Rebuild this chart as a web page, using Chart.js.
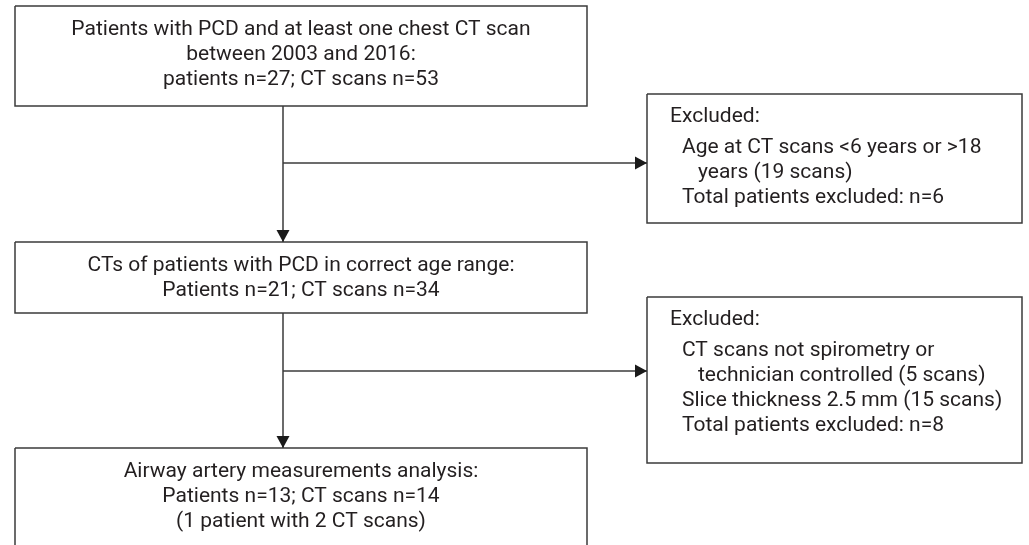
<!DOCTYPE html>
<html>
<head>
<meta charset="utf-8">
<script src="https://cdn.jsdelivr.net/npm/chart.js@4/dist/chart.umd.min.js"></script>
<style>
  html, body { margin: 0; padding: 0; background: #fff; }
  #wrap { width: 1029px; height: 545px; position: relative; }
</style>
</head>
<body>
<div id="wrap"><canvas id="flow"></canvas></div>
<script>
// flow stages (centred boxes on the left)
const screenedText = ['Patients with PCD and at least one chest CT scan', 'between 2003 and 2016:', 'patients n=27; CT scans n=53'];
const ageRangeText = ['CTs of patients with PCD in correct age range:', 'Patients n=21; CT scans n=34'];
const analysedText = ['Airway artery measurements analysis:', 'Patients n=13; CT scans n=14', '(1 patient with 2 CT scans)'];

// exclusion boxes: each item is a list of wrapped lines
const excludedAge = [['Age at CT scans <6 years or >18', 'years (19 scans)'], ['Total patients excluded: n=6']];
const excludedTech = [['CT scans not spirometry or', 'technician controlled (5 scans)'], ['Slice thickness 2.5 mm (15 scans)'], ['Total patients excluded: n=8']];

// layout, in canvas units
const mainBoxes = [
  { x0: 15, x1: 587, y0: 6, y1: 106, lines: screenedText },
  { x0: 15, x1: 587, y0: 242, y1: 313, lines: ageRangeText },
  { x0: 15, x1: 587, y0: 448, y1: 549, lines: analysedText }
];
const sideBoxes = [
  { x0: 647, x1: 1022, y0: 94, y1: 223, items: excludedAge },
  { x0: 647, x1: 1022, y0: 297, y1: 463, items: excludedTech }
];
const stemX = 283;
const branchY = [163, 371];

const LINE = '#3b3b3b';
const TEXT = '#231f20';
const FONT = '21px Roboto';
const LH = 25;

function rect(b) {
  return [{ x: b.x0, y: b.y0 }, { x: b.x1, y: b.y0 }, { x: b.x1, y: b.y1 }, { x: b.x0, y: b.y1 }, { x: b.x0, y: b.y0 }];
}

const datasets = [];
mainBoxes.concat(sideBoxes).forEach(b => {
  datasets.push({ data: rect(b), borderColor: LINE, borderWidth: 1.5, pointRadius: 0, showLine: true, borderJoinStyle: 'miter', arrow: false });
});
// vertical connectors
for (let i = 0; i < mainBoxes.length - 1; i++) {
  datasets.push({ data: [{ x: stemX, y: mainBoxes[i].y1 }, { x: stemX, y: mainBoxes[i + 1].y0 }], borderColor: LINE, borderWidth: 1.5, pointRadius: 0, showLine: true, arrow: true });
}
// horizontal branches
for (let i = 0; i < branchY.length; i++) {
  datasets.push({ data: [{ x: stemX, y: branchY[i] }, { x: sideBoxes[i].x0, y: branchY[i] }], borderColor: LINE, borderWidth: 1.5, pointRadius: 0, showLine: true, arrow: true });
}

const flowPlugin = {
  id: 'flow',
  afterDatasetsDraw(chart) {
    const ctx = chart.ctx;
    const sx = chart.scales.x;
    const sy = chart.scales.y;
    const px = v => sx.getPixelForValue(v);
    const py = v => sy.getPixelForValue(v);

    // arrowheads
    ctx.save();
    ctx.fillStyle = '#1a1a1a';
    chart.data.datasets.forEach(ds => {
      if (!ds.arrow) return;
      const a = ds.data[ds.data.length - 2];
      const b = ds.data[ds.data.length - 1];
      const x1 = px(b.x), y1 = py(b.y);
      const ang = Math.atan2(y1 - py(a.y), x1 - px(a.x));
      ctx.save();
      ctx.translate(x1, y1);
      ctx.rotate(ang);
      ctx.beginPath();
      ctx.moveTo(0, 0);
      ctx.lineTo(-12, -6.5);
      ctx.lineTo(-12, 6.5);
      ctx.closePath();
      ctx.fill();
      ctx.restore();
    });
    ctx.restore();

    // texts
    ctx.save();
    ctx.fillStyle = TEXT;
    ctx.font = FONT;
    ctx.textBaseline = 'middle';
    ctx.textAlign = 'center';
    mainBoxes.forEach(b => {
      const cx = (b.x0 + b.x1) / 2;
      b.lines.forEach((t, i) => ctx.fillText(t, px(cx), py(b.y0 + 24 + i * LH)));
    });
    ctx.textAlign = 'left';
    sideBoxes.forEach(b => {
      ctx.fillText('Excluded:', px(b.x0 + 23), py(b.y0 + 23));
      let y = b.y0 + 54;
      b.items.forEach(item => {
        item.forEach((t, j) => {
          ctx.fillText(t, px(b.x0 + (j === 0 ? 35 : 51)), py(y));
          y += LH;
        });
      });
    });
    ctx.restore();
  }
};

new Chart(document.getElementById('flow'), {
  type: 'scatter',
  data: { datasets: datasets },
  options: {
    responsive: true,
    maintainAspectRatio: false,
    animation: false,
    events: [],
    layout: { padding: 0 },
    plugins: { legend: { display: false }, tooltip: { enabled: false } },
    scales: {
      x: { display: false, min: 0, max: 1029 },
      y: { display: false, min: 0, max: 545, reverse: true }
    }
  },
  plugins: [flowPlugin]
});
</script>
</body>
</html>
